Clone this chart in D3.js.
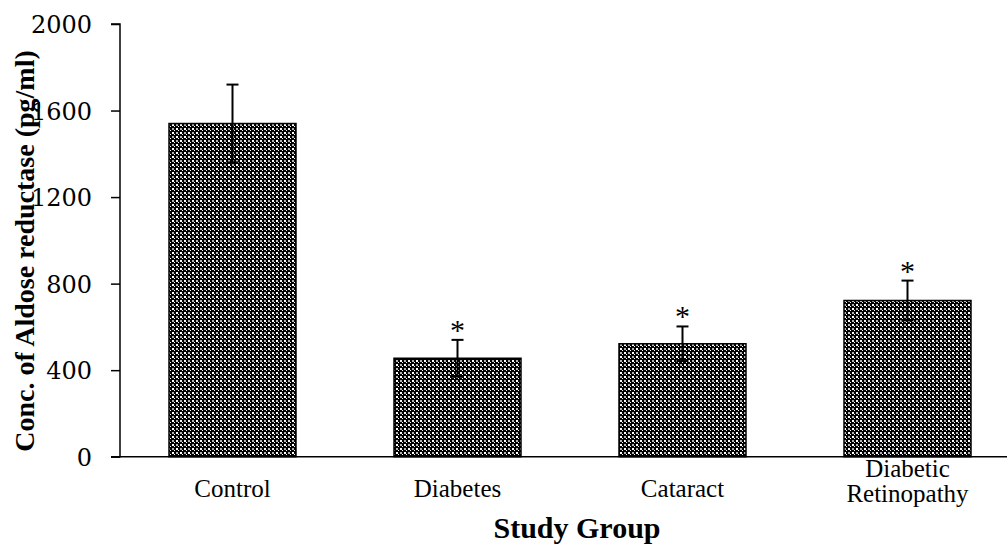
<!DOCTYPE html>
<html>
<head>
<meta charset="utf-8">
<script src="https://cdn.jsdelivr.net/npm/d3@7"></script>
<style>
  html, body { margin: 0; padding: 0; background: #fff; }
  svg { display: block; }
</style>
</head>
<body>
<svg id="chart" width="1007" height="544"></svg>
<script>
// ---- data ----
const categories = ["Control", "Diabetes", "Cataract", "Diabetic Retinopathy"];
const meanValues = [1540, 455, 522, 722];
const errorValues = [180, 85, 80, 92];
const significant = [false, true, true, true];
const yTicks = [0, 400, 800, 1200, 1600, 2000];
const yTitle = "Conc. of Aldose reductase (pg/ml)";
const xTitle = "Study Group";

// ---- layout ----
const W = 1007, H = 544;
const x0 = 120, x1 = 1020, yBase = 456.7, yTop = 24;

const svg = d3.select("#chart");

// pattern fill
const defs = svg.append("defs");
const pat = defs.append("pattern")
  .attr("id", "confetti").attr("patternUnits", "userSpaceOnUse")
  .attr("width", 8).attr("height", 8);
pat.append("rect").attr("width", 8).attr("height", 8).attr("fill", "#000");
[[0,0,"#fff"],[4,4,"#fff"],[4,0,"#b4b4b4"],[0,4,"#b4b4b4"]].forEach(([px,py,c]) => {
  pat.append("rect").attr("x", px).attr("y", py).attr("width", 2).attr("height", 2).attr("fill", c);
});
[[2,2],[6,6],[2,6],[6,2]].forEach(([px,py]) => {
  pat.append("rect").attr("x", px).attr("y", py).attr("width", 1).attr("height", 1).attr("fill", "#fff");
});

const x = d3.scaleBand().domain(categories).range([x0, x1])
  .paddingInner(0.4356).paddingOuter(0.2178);
const y = d3.scaleLinear().domain([0, 2000]).range([yBase, yTop]);

// bars
const g = svg.append("g");
g.selectAll("rect.bar").data(categories).join("rect")
  .attr("class", "bar")
  .attr("x", d => x(d))
  .attr("width", x.bandwidth())
  .attr("y", (d, i) => y(meanValues[i]))
  .attr("height", (d, i) => y(0) - y(meanValues[i]))
  .attr("fill", "url(#confetti)")
  .attr("stroke", "#000").attr("stroke-width", 1.5);

// error bars
const capW = 12;
categories.forEach((c, i) => {
  const cx = x(c) + x.bandwidth() / 2;
  const hi = y(meanValues[i] + errorValues[i]);
  const lo = y(meanValues[i] - errorValues[i]);
  g.append("line").attr("x1", cx).attr("x2", cx).attr("y1", hi).attr("y2", lo)
    .attr("stroke", "#000").attr("stroke-width", 2);
  g.append("line").attr("x1", cx - capW/2).attr("x2", cx + capW/2).attr("y1", hi).attr("y2", hi)
    .attr("stroke", "#000").attr("stroke-width", 2);
  g.append("line").attr("x1", cx - capW/2).attr("x2", cx + capW/2).attr("y1", lo).attr("y2", lo)
    .attr("stroke", "#000").attr("stroke-width", 2);
  if (significant[i]) {
    g.append("text").attr("x", cx).attr("y", hi + 0)
      .attr("text-anchor", "middle")
      .attr("font-family", "Liberation Serif, Times New Roman, serif")
      .attr("font-size", 30).attr("fill", "#000").text("*");
  }
});

// y axis
const yAxis = d3.axisLeft(y).tickValues(yTicks).tickSize(9).tickPadding(20)
  .tickFormat(d3.format("d"));
const ya = svg.append("g").attr("transform", `translate(${x0},0)`).call(yAxis);
ya.select(".domain").attr("stroke", "#000").attr("stroke-width", 1.5)
  .attr("d", `M-9,${yTop}H0V${yBase}H-9`);
ya.selectAll(".tick line").attr("stroke", "#000").attr("stroke-width", 1.5);
ya.selectAll(".tick text")
  .attr("font-family", "DejaVu Serif, serif").attr("font-size", 24)
  .attr("fill", "#000").attr("x", -28).attr("dy", "0.36em");

// x axis line
svg.append("line").attr("x1", x0).attr("x2", W).attr("y1", yBase).attr("y2", yBase)
  .attr("stroke", "#000").attr("stroke-width", 1.5);

// category labels
categories.forEach(c => {
  const cx = x(c) + x.bandwidth() / 2;
  const words = c === "Diabetic Retinopathy" ? ["Diabetic", "Retinopathy"] : [c];
  const t = svg.append("text").attr("text-anchor", "middle")
    .attr("font-family", "Liberation Serif, Times New Roman, serif")
    .attr("font-size", 25).attr("fill", "#000");
  const y0 = words.length > 1 ? 477 : 497;
  words.forEach((w, k) => {
    t.append("tspan").attr("x", cx).attr("y", y0 + k * 24.5).text(w);
  });
});

// axis titles
svg.append("text").attr("x", 577).attr("y", 538).attr("text-anchor", "middle")
  .attr("font-family", "Liberation Serif, Times New Roman, serif")
  .attr("font-weight", "bold").attr("font-size", 30).attr("fill", "#000")
  .text(xTitle);

svg.append("text")
  .attr("transform", `translate(34,251) rotate(-90)`)
  .attr("text-anchor", "middle")
  .attr("font-family", "Liberation Serif, Times New Roman, serif")
  .attr("font-weight", "bold").attr("font-size", 28).attr("fill", "#000")
  .text(yTitle);
</script>
</body>
</html>
